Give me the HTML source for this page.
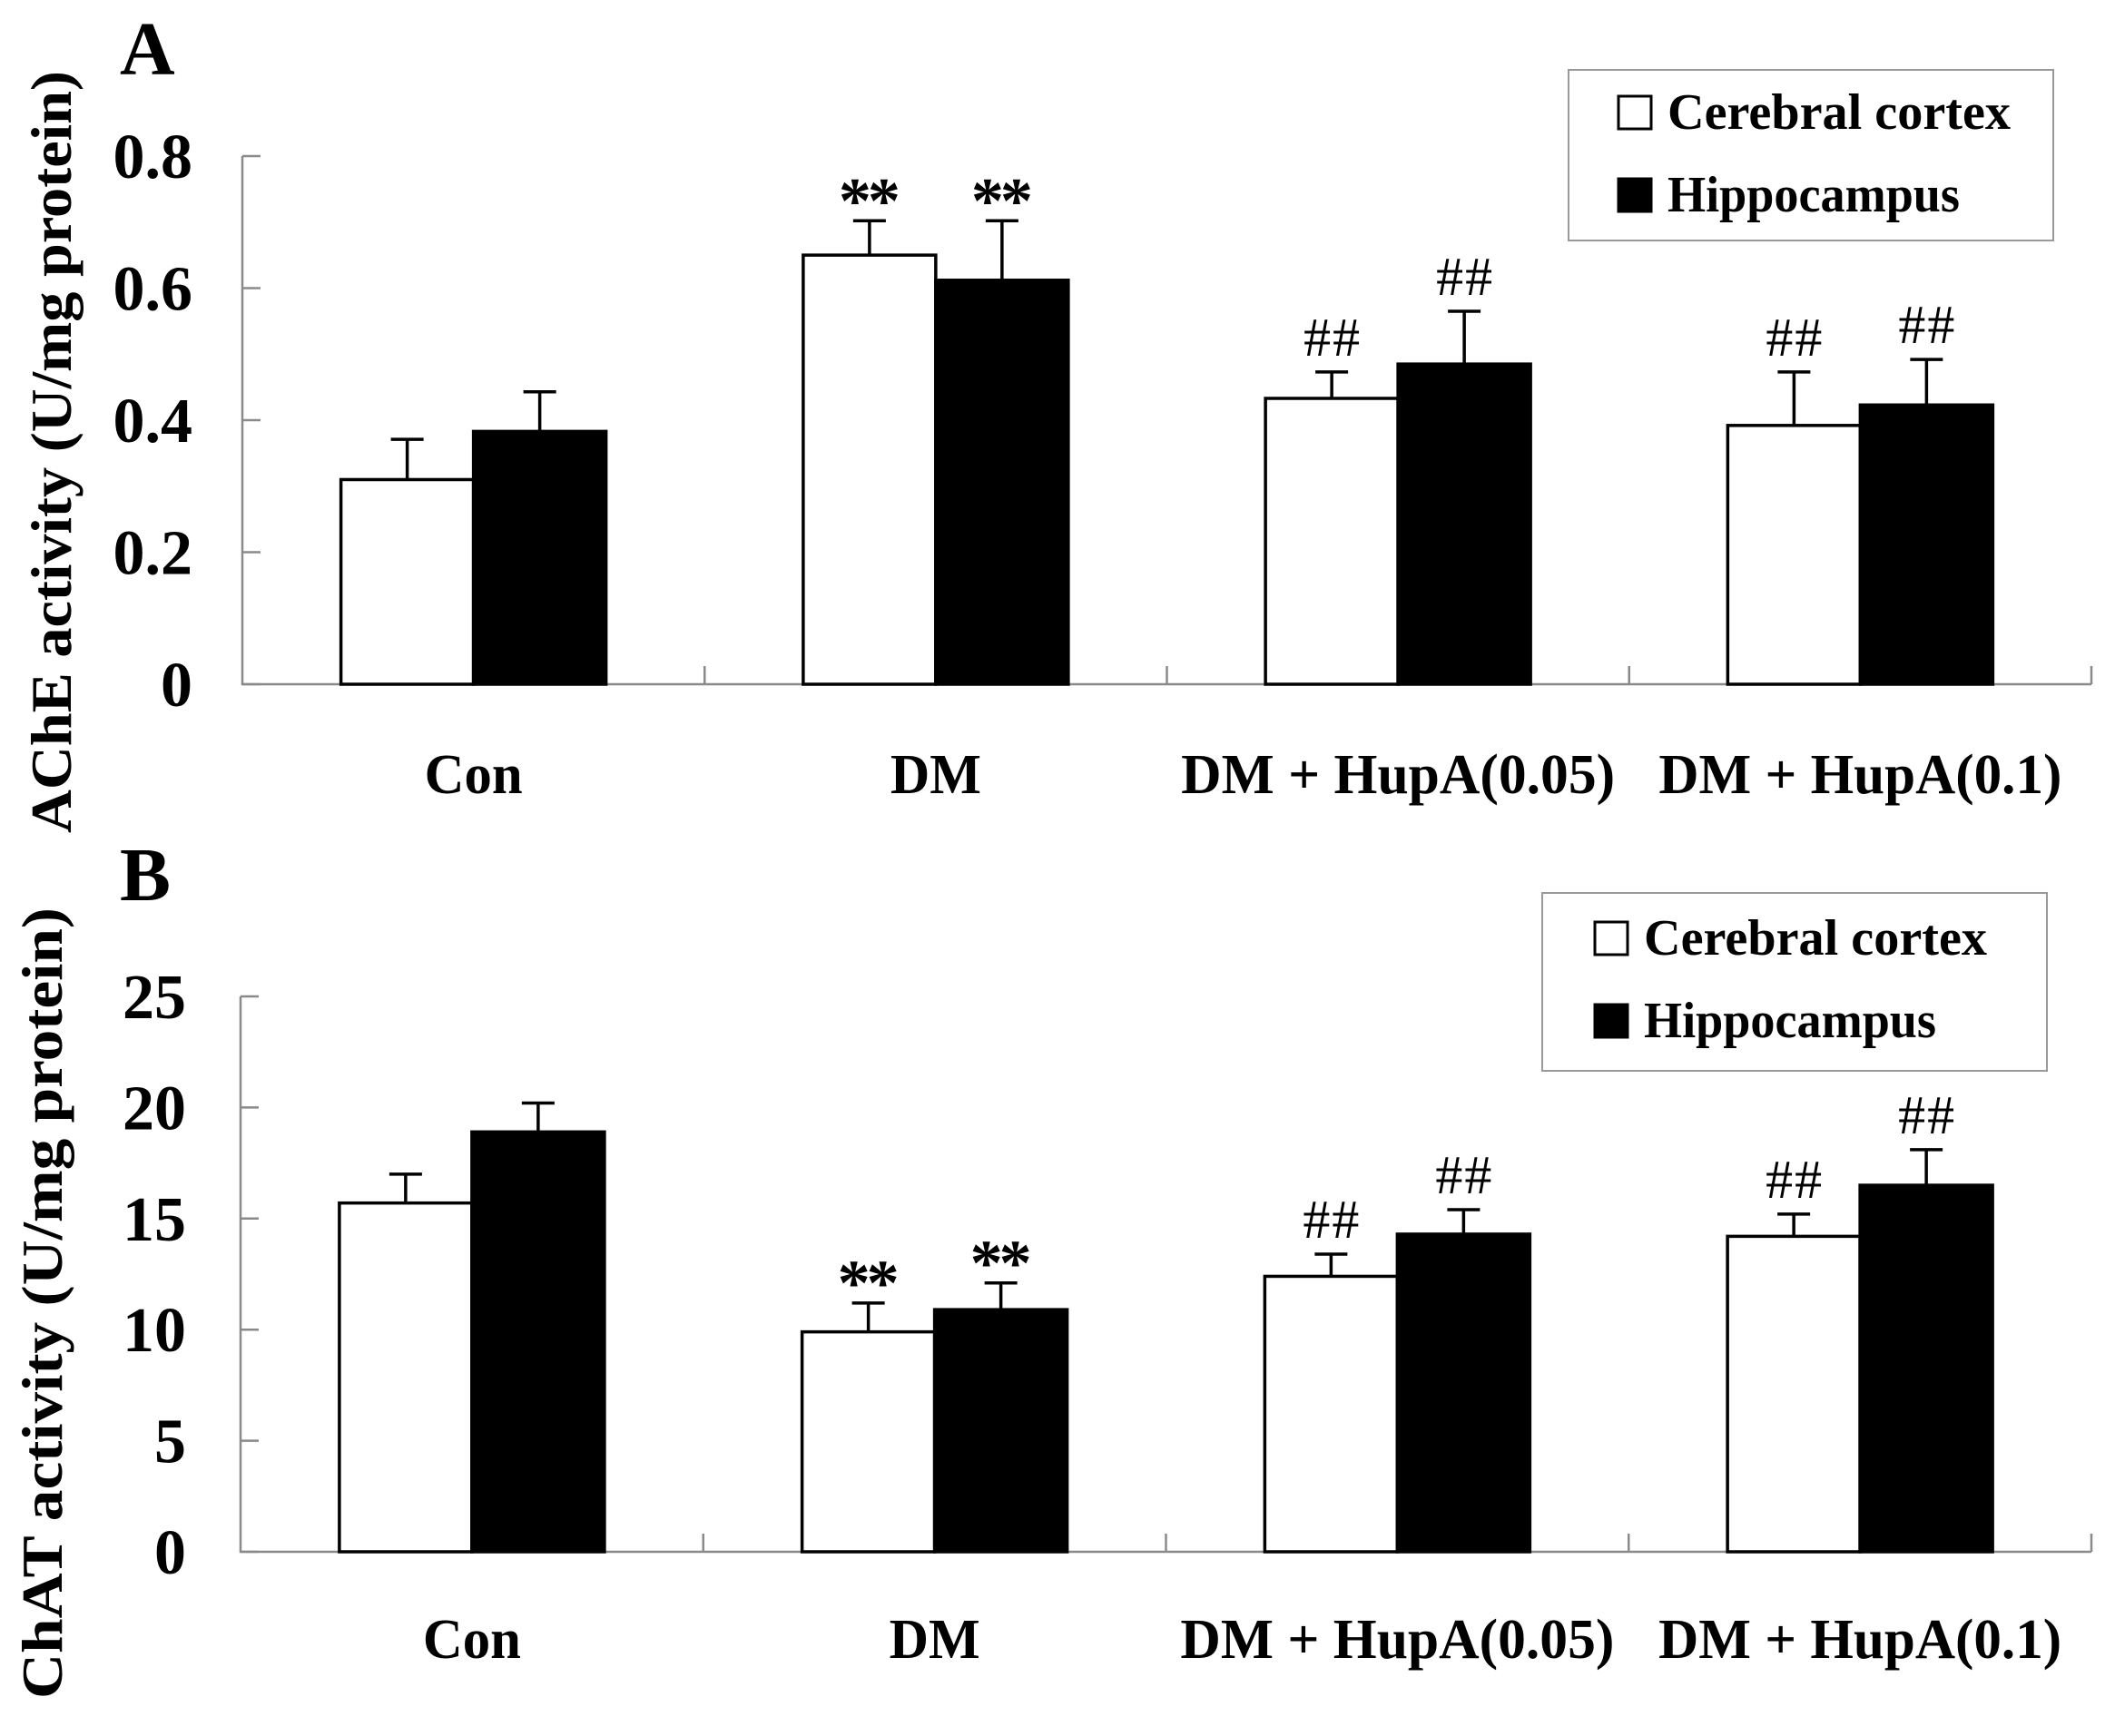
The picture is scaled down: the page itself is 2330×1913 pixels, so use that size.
<!DOCTYPE html>
<html><head><meta charset="utf-8"><style>
html,body{margin:0;padding:0;background:#fff;}
svg{display:block;}
text{font-family:"Liberation Serif",serif;}
</style></head><body>
<svg id="fig" width="2330" height="1913" viewBox="0 0 2330 1913" xmlns="http://www.w3.org/2000/svg">
<rect x="0" y="0" width="2330" height="1913" fill="#fff"/>
<g id="panelA"></g>
<g id="panelB"></g>
</svg>
<script>
const categories = ["Con", "DM", "DM + HupA(0.05)", "DM + HupA(0.1)"];
const categoryWidths = [108, 100, 478, 444];
const seriesNames = ["Cerebral cortex", "Hippocampus"];
const acheCortex = [0.31, 0.65, 0.433, 0.392];
const acheCortexErr = [0.371, 0.702, 0.473, 0.473];
const acheHippo = [0.383, 0.612, 0.485, 0.423];
const acheHippoErr = [0.443, 0.702, 0.565, 0.492];
const acheTicks = [0, 0.2, 0.4, 0.6, 0.8];
const acheTickLabels = ["0", "0.2", "0.4", "0.6", "0.8"];
const acheMarksCortex = ["", "**", "##", "##"];
const acheMarksHippo = ["", "**", "##", "##"];
const chatCortex = [15.7, 9.9, 12.4, 14.2];
const chatCortexErr = [17.0, 11.2, 13.4, 15.2];
const chatHippo = [18.9, 10.9, 14.3, 16.5];
const chatHippoErr = [20.2, 12.1, 15.4, 18.1];
const chatTicks = [0, 5, 10, 15, 20, 25];
const chatTickLabels = ["0", "5", "10", "15", "20", "25"];
const chatMarksCortex = ["", "**", "##", "##"];
const chatMarksHippo = ["", "**", "##", "##"];

const NS = "http://www.w3.org/2000/svg";
function mk(parent, tag, attrs, txt) {
  const e = document.createElementNS(NS, tag);
  for (const k in attrs) e.setAttribute(k, attrs[k]);
  if (txt !== undefined) e.textContent = txt;
  parent.appendChild(e);
  return e;
}

function panel(g, cfg) {
  const x0 = cfg.x0, x1 = 2304, yTop = cfg.yTop, yBot = cfg.yBot;
  const ymax = cfg.ticks[cfg.ticks.length - 1];
  const yS = v => yBot - (v / ymax) * (yBot - yTop);
  const cw = (x1 - x0) / categories.length;
  const xc = i => x0 + cw * (i + 0.5);
  const bw = 146;

  const letter = mk(g, "text", {x: cfg.letterX, y: cfg.letterY, "font-size": 84, "font-weight": "bold"}, cfg.letter);
  
  

  const yt = mk(g, "text", {x: 0, y: 0, "font-size": 64, "font-weight": "bold", "text-anchor": "middle",
    transform: `translate(${cfg.titleX},${cfg.titleY}) rotate(-90)`, textLength: cfg.titleLen, lengthAdjust: "spacingAndGlyphs"}, cfg.title);
  
  

  const ax = mk(g, "path", {d: `M${x0},${yTop} L${x0},${yBot} L${x1},${yBot}`, stroke: "#8a8a8a", "stroke-width": 2.5, fill: "none"});
  
  

  cfg.ticks.forEach((t, i) => {
    const y = yS(t);
    const tk = mk(g, "line", {x1: x0, x2: x0 + 20, y1: y, y2: y, stroke: "#8a8a8a", "stroke-width": 2.5});
    
    
    const tl = mk(g, "text", {x: cfg.labelRight, y: y + 24, "font-size": 70, "font-weight": "bold", "text-anchor": "end"}, cfg.tickLabels[i]);
    
    
  });
  for (let i = 1; i <= categories.length; i++) {
    const xx = x0 + cw * i;
    const ct = mk(g, "line", {x1: xx, x2: xx, y1: yBot, y2: yBot - 20, stroke: "#8a8a8a", "stroke-width": 2.5});
    
    
  }

  categories.forEach((c, i) => {
    const cx = xc(i);
    const series = [
      {v: cfg.cortex[i], e: cfg.cortexErr[i], m: cfg.marksC[i], fill: "#fff", x: cx - bw, name: "bar-cortex"},
      {v: cfg.hippo[i], e: cfg.hippoErr[i], m: cfg.marksH[i], fill: "#000", x: cx, name: "bar-hippocampus"}
    ];
    series.forEach(s => {
      const top = yS(s.v), et = yS(s.e), mx = s.x + bw / 2;
      const eb = mk(g, "path", {d: `M${mx},${top} L${mx},${et} M${mx - 18},${et} L${mx + 18},${et}`, stroke: "#000", "stroke-width": 3.5, fill: "none"});
      
      
      const r = mk(g, "rect", {x: s.x, y: top, width: bw, height: yBot - top, fill: s.fill, stroke: "#000", "stroke-width": 3.5});
      
      
      if (s.m) {
        const star = s.m === "**";
        const mt = mk(g, "text", {x: mx, y: et - (star ? -2 : 18), "font-size": star ? 72 : 60, "font-weight": star ? "bold" : "normal", "text-anchor": "middle", textLength: star ? 68 : 62, lengthAdjust: "spacing"}, s.m);
        
        
      }
    });
    const cl = mk(g, "text", {x: cx, y: cfg.catY, "font-size": 62, "font-weight": "bold", "text-anchor": "middle",
      textLength: categoryWidths[i], lengthAdjust: "spacingAndGlyphs"}, c);
    
    
  });

  const L = cfg.legend;
  const lg = mk(g, "g", {});
  
  
  mk(lg, "rect", {x: L.x, y: L.y, width: L.w, height: L.h, fill: "#fff", stroke: "#999", "stroke-width": 2});
  seriesNames.forEach((n, k) => {
    const sy = L.sy + k * 91;
    const sw = mk(lg, "rect", {x: L.sx, y: sy, width: 36, height: 36, fill: k ? "#000" : "#fff", stroke: "#000", "stroke-width": 3});
    
    
    const lt = mk(lg, "text", {x: L.sx + 54, y: sy + 36, "font-size": 56, "font-weight": "bold",
      textLength: k ? 322 : 378, lengthAdjust: "spacingAndGlyphs"}, n);
    
    
  });
}

panel(document.getElementById("panelA"), {
  x0: 267, yTop: 172, yBot: 754, ticks: acheTicks, tickLabels: acheTickLabels,
  cortex: acheCortex, cortexErr: acheCortexErr, hippo: acheHippo, hippoErr: acheHippoErr,
  marksC: acheMarksCortex, marksH: acheMarksHippo,
  letter: "A", letterX: 132, letterY: 82, labelRight: 212,
  title: "AChE activity (U/mg protein)", titleX: 78, titleY: 498, titleLen: 840,
  catY: 874,
  legend: {x: 1728, y: 77, w: 534, h: 188, sx: 1783, sy: 106}
});
panel(document.getElementById("panelB"), {
  x0: 265, yTop: 1098, yBot: 1710, ticks: chatTicks, tickLabels: chatTickLabels,
  cortex: chatCortex, cortexErr: chatCortexErr, hippo: chatHippo, hippoErr: chatHippoErr,
  marksC: chatMarksCortex, marksH: chatMarksHippo,
  letter: "B", letterX: 132, letterY: 992, labelRight: 205,
  title: "ChAT activity (U/mg protein)", titleX: 68, titleY: 1436, titleLen: 872,
  catY: 1827,
  legend: {x: 1699, y: 984, w: 556, h: 196, sx: 1757, sy: 1016}
});
</script>
</body></html>
